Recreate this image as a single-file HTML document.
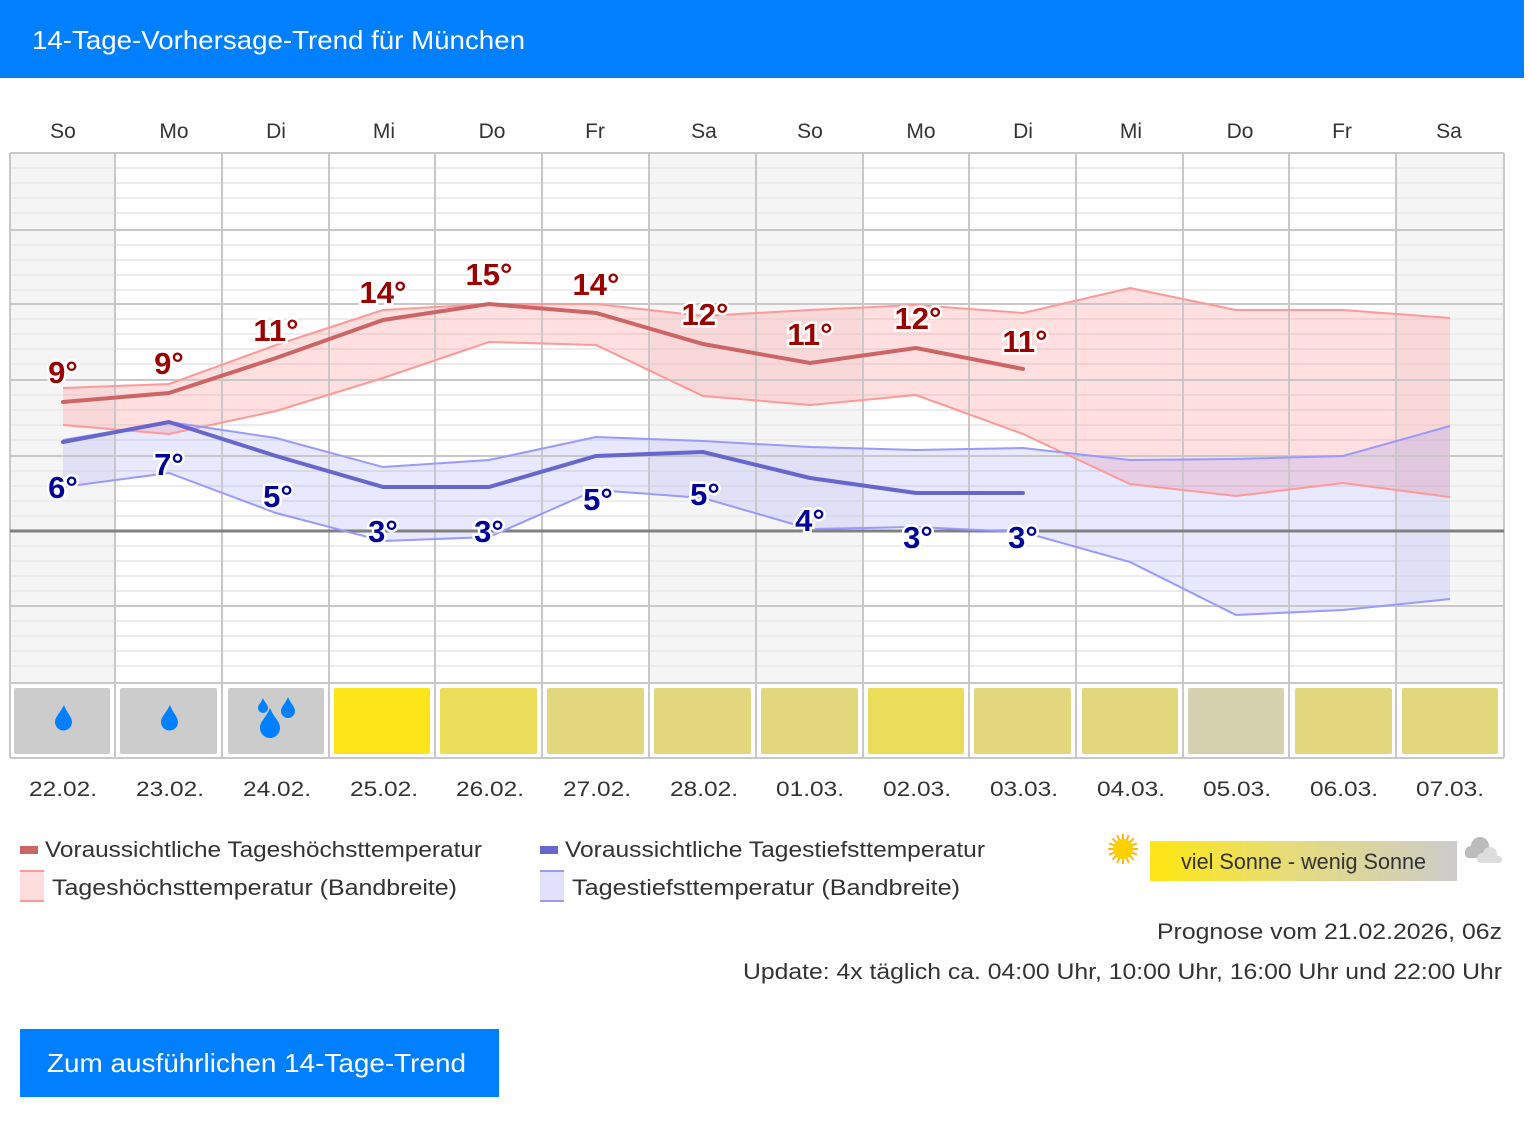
<!DOCTYPE html>
<html><head><meta charset="utf-8"><style>
body{margin:0;background:#fff;font-family:"Liberation Sans","DejaVu Sans",sans-serif;}
svg{display:block}
text{font-family:"Liberation Sans","DejaVu Sans",sans-serif}
.hl{font-size:31px;font-weight:bold;fill:#990000;stroke:#fff;stroke-width:5px;paint-order:stroke;text-anchor:middle}
.ll{font-size:31px;font-weight:bold;fill:#000099;stroke:#fff;stroke-width:5px;paint-order:stroke;text-anchor:middle}
.d{font-size:21px;fill:#333;text-anchor:middle}
.g{font-size:22px;fill:#333}
</style></head><body>
<svg width="1530" height="1122" viewBox="0 0 1530 1122">
<rect x="0" y="0" width="1524" height="78" fill="#0080ff"/>
<text x="32" y="49" font-size="26" fill="#fff" textLength="493" lengthAdjust="spacingAndGlyphs">14-Tage-Vorhersage-Trend für München</text>
<g class="d" font-size="21">
<text x="63" y="138">So</text><text x="174" y="138">Mo</text><text x="276" y="138">Di</text><text x="384" y="138">Mi</text><text x="492" y="138">Do</text><text x="595" y="138">Fr</text><text x="704" y="138">Sa</text><text x="810" y="138">So</text><text x="921" y="138">Mo</text><text x="1023" y="138">Di</text><text x="1131" y="138">Mi</text><text x="1240" y="138">Do</text><text x="1342" y="138">Fr</text><text x="1449" y="138">Sa</text>
</g>
<rect x="10" y="153" width="105" height="530" fill="#f5f5f5"/>
<rect x="649" y="153" width="214" height="530" fill="#f5f5f5"/>
<rect x="1396" y="153" width="108" height="530" fill="#f5f5f5"/>
<g stroke="#ececec" stroke-width="2">
<path d="M10 168H1504M10 183H1504M10 198H1504M10 213H1504M10 245H1504M10 260H1504M10 275H1504M10 290H1504M10 319H1504M10 334H1504M10 349H1504M10 364H1504M10 395H1504M10 410H1504M10 425H1504M10 440H1504M10 471H1504M10 486H1504M10 501H1504M10 516H1504M10 546H1504M10 561H1504M10 576H1504M10 591H1504M10 621H1504M10 636H1504M10 651H1504M10 666H1504"/>
</g>
<polygon fill="rgba(255,140,140,0.28)" points="63,388 169,384 276,345 383,310 489,304 596,304 703,316 810,310 916,305 1023,313 1130,288 1236,310 1343,310 1450,318 1450,497 1343,483 1236,496 1130,484 1023,434 916,395 810,405 703,396 596,345 489,342 383,378 276,411 169,434 63,425"/>
<polygon fill="rgba(140,140,255,0.2)" points="63,440 169,422 276,438 383,467 489,460 596,437 703,441 810,447 916,450 1023,448 1130,460 1236,459 1343,456 1450,426 1450,599 1343,610 1236,615 1130,562 1023,532 916,527 810,529 703,498 596,490 489,537 383,541 276,513 169,473 63,487"/>
<g stroke="#c8c8c8" stroke-width="2" fill="none">
<path d="M10 153H1504M10 230H1504M10 304H1504M10 380H1504M10 456H1504M10 606H1504M10 683H1504M10 758H1504"/>
<path d="M10 153V758M115 153V758M222 153V758M329 153V758M435 153V758M542 153V758M649 153V758M756 153V758M863 153V758M969 153V758M1076 153V758M1183 153V758M1289 153V758M1396 153V758M1504 153V758"/>
</g>
<path d="M10 531H1504" stroke="#808080" stroke-width="3"/>
<polyline fill="none" stroke="#ff9999" stroke-width="2" points="63,388 169,384 276,345 383,310 489,304 596,304 703,316 810,310 916,305 1023,313 1130,288 1236,310 1343,310 1450,318"/>
<polyline fill="none" stroke="#ff9999" stroke-width="2" points="63,425 169,434 276,411 383,378 489,342 596,345 703,396 810,405 916,395 1023,434 1130,484 1236,496 1343,483 1450,497"/>
<polyline fill="none" stroke="#9999ff" stroke-width="2" points="63,440 169,422 276,438 383,467 489,460 596,437 703,441 810,447 916,450 1023,448 1130,460 1236,459 1343,456 1450,426"/>
<polyline fill="none" stroke="#9999ff" stroke-width="2" points="63,487 169,473 276,513 383,541 489,537 596,490 703,498 810,529 916,527 1023,532 1130,562 1236,615 1343,610 1450,599"/>
<polyline fill="none" stroke="#cc6666" stroke-width="4" stroke-linecap="round" points="63,402 169,393 276,358 383,320 489,304 596,313 703,344 810,363 916,348 1023,369"/>
<polyline fill="none" stroke="#6666cc" stroke-width="4" stroke-linecap="round" points="63,442 169,422 276,456 383,487 489,487 596,456 703,452 810,478 916,493 1023,493"/>
<text class="hl" x="63" y="383">9°</text><text class="hl" x="169" y="374">9°</text><text class="hl" x="276" y="341">11°</text><text class="hl" x="383" y="303">14°</text><text class="hl" x="489" y="285">15°</text><text class="hl" x="596" y="295">14°</text><text class="hl" x="705" y="325">12°</text><text class="hl" x="810" y="345">11°</text><text class="hl" x="918" y="329">12°</text><text class="hl" x="1025" y="352">11°</text>
<text class="ll" x="63" y="498">6°</text><text class="ll" x="169" y="475">7°</text><text class="ll" x="278" y="507">5°</text><text class="ll" x="383" y="542">3°</text><text class="ll" x="489" y="542">3°</text><text class="ll" x="598" y="510">5°</text><text class="ll" x="705" y="505">5°</text><text class="ll" x="810" y="531">4°</text><text class="ll" x="918" y="548">3°</text><text class="ll" x="1023" y="548">3°</text>
<g>
<rect x="14" y="688" width="96" height="66" rx="2" fill="#cccccc"/>
<rect x="120" y="688" width="97" height="66" rx="2" fill="#cccccc"/>
<rect x="228" y="688" width="96" height="66" rx="2" fill="#cccccc"/>
<rect x="334" y="688" width="96" height="66" rx="2" fill="#fce61a"/>
<rect x="440" y="688" width="97" height="66" rx="2" fill="#ebdd5a"/>
<rect x="547" y="688" width="97" height="66" rx="2" fill="#e2d77c"/>
<rect x="654" y="688" width="97" height="66" rx="2" fill="#e2d77c"/>
<rect x="761" y="688" width="97" height="66" rx="2" fill="#e2d77c"/>
<rect x="868" y="688" width="96" height="66" rx="2" fill="#ebdd5a"/>
<rect x="974" y="688" width="97" height="66" rx="2" fill="#e2d77c"/>
<rect x="1082" y="688" width="96" height="66" rx="2" fill="#e2d77c"/>
<rect x="1188" y="688" width="96" height="66" rx="2" fill="#d5d0ae"/>
<rect x="1295" y="688" width="97" height="66" rx="2" fill="#e2d77c"/>
<rect x="1402" y="688" width="96" height="66" rx="2" fill="#e2d77c"/>
</g>
<g fill="#0080ff">
<path d="M64 705 C60 713 55 717 55 722 A7.5 7.5 0 0 0 72 722 C72 717 67 713 64 705Z"/>
<path d="M170 705 C166 713 161 717 161 722 A7.5 7.5 0 0 0 178 722 C178 717 173 713 170 705Z"/>
<path d="M270 708 C266 718 260 721 260 728 A9.5 9.5 0 0 0 280 728 C280 721 274 718 270 708Z"/>
<path d="M263 698 C261 703 258 705 258 708 A5 5 0 0 0 268 708 C268 705 265 703 263 698Z"/>
<path d="M288 697 C285 704 281 707 281 711 A6.5 6.5 0 0 0 295 711 C295 707 291 704 288 697Z"/>
</g>
<g class="d">
<text x="63" y="796" textLength="68" lengthAdjust="spacingAndGlyphs">22.02.</text><text x="170" y="796" textLength="68" lengthAdjust="spacingAndGlyphs">23.02.</text><text x="277" y="796" textLength="68" lengthAdjust="spacingAndGlyphs">24.02.</text><text x="384" y="796" textLength="68" lengthAdjust="spacingAndGlyphs">25.02.</text><text x="490" y="796" textLength="68" lengthAdjust="spacingAndGlyphs">26.02.</text><text x="597" y="796" textLength="68" lengthAdjust="spacingAndGlyphs">27.02.</text><text x="704" y="796" textLength="68" lengthAdjust="spacingAndGlyphs">28.02.</text><text x="810" y="796" textLength="68" lengthAdjust="spacingAndGlyphs">01.03.</text><text x="917" y="796" textLength="68" lengthAdjust="spacingAndGlyphs">02.03.</text><text x="1024" y="796" textLength="68" lengthAdjust="spacingAndGlyphs">03.03.</text><text x="1131" y="796" textLength="68" lengthAdjust="spacingAndGlyphs">04.03.</text><text x="1237" y="796" textLength="68" lengthAdjust="spacingAndGlyphs">05.03.</text><text x="1344" y="796" textLength="68" lengthAdjust="spacingAndGlyphs">06.03.</text><text x="1450" y="796" textLength="68" lengthAdjust="spacingAndGlyphs">07.03.</text>
</g>
<rect x="20" y="846" width="18" height="8" fill="#cc6666"/>
<text class="g" x="45" y="857" textLength="437" lengthAdjust="spacingAndGlyphs">Voraussichtliche Tageshöchsttemperatur</text>
<rect x="20" y="870" width="24" height="32" fill="#fddede"/>
<rect x="20" y="870" width="24" height="2" fill="#ff9999"/><rect x="20" y="900" width="24" height="2" fill="#ff9999"/>
<text class="g" x="52" y="895" textLength="405" lengthAdjust="spacingAndGlyphs">Tageshöchsttemperatur (Bandbreite)</text>
<rect x="540" y="846" width="18" height="8" fill="#6666cc"/>
<text class="g" x="565" y="857" textLength="420" lengthAdjust="spacingAndGlyphs">Voraussichtliche Tagestiefsttemperatur</text>
<rect x="540" y="870" width="24" height="32" fill="#e2e2fd"/>
<rect x="540" y="870" width="24" height="2" fill="#9999ff"/><rect x="540" y="900" width="24" height="2" fill="#9999ff"/>
<text class="g" x="572" y="895" textLength="388" lengthAdjust="spacingAndGlyphs">Tagestiefsttemperatur (Bandbreite)</text>
<defs><linearGradient id="sg" x1="0" x2="1"><stop offset="0.05" stop-color="#fce61a"/><stop offset="0.45" stop-color="#e6dc7a"/><stop offset="1" stop-color="#cccccc"/></linearGradient></defs>
<rect x="1150" y="841" width="307" height="40" fill="url(#sg)"/>
<text class="g" x="1181" y="869" font-size="21" textLength="245" lengthAdjust="spacingAndGlyphs">viel Sonne - wenig Sonne</text>
<g transform="translate(1123,849)">
<g stroke="#fdb813" stroke-width="2">
<path d="M0 -15V15M-15 0H15M-10.6 -10.6L10.6 10.6M-10.6 10.6L10.6 -10.6"/>
<path d="M-5.7 -13.9L5.7 13.9M-13.9 -5.7L13.9 5.7M-5.7 13.9L5.7 -13.9M-13.9 5.7L13.9 -5.7"/>
</g>
<circle r="10" fill="#ffd000"/>
</g>
<g>
<circle cx="1480" cy="846" r="9" fill="#bbbbbb"/><circle cx="1471" cy="852" r="6" fill="#bbbbbb"/><rect x="1465" y="850" width="26" height="8" rx="4" fill="#bbbbbb"/>
<circle cx="1490" cy="854" r="7" fill="#dddddd"/><circle cx="1482" cy="858" r="5" fill="#dddddd"/><rect x="1477" y="856" width="25" height="7" rx="3.5" fill="#dddddd"/>
</g>
<text class="g" x="1157" y="939" textLength="345" lengthAdjust="spacingAndGlyphs">Prognose vom 21.02.2026, 06z</text>
<text class="g" x="743" y="979" textLength="759" lengthAdjust="spacingAndGlyphs">Update: 4x täglich ca. 04:00 Uhr, 10:00 Uhr, 16:00 Uhr und 22:00 Uhr</text>
<rect x="20" y="1029" width="479" height="68" fill="#0080ff"/>
<text x="47" y="1072" font-size="26" fill="#fff" textLength="419" lengthAdjust="spacingAndGlyphs">Zum ausführlichen 14-Tage-Trend</text>
</svg>
</body></html>
